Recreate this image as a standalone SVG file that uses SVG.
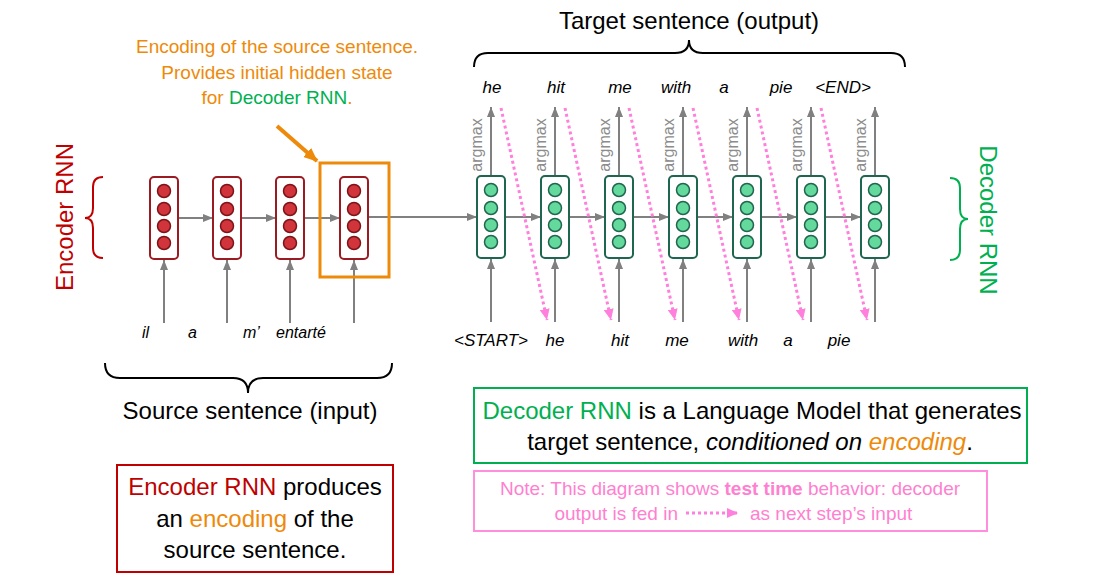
<svg xmlns="http://www.w3.org/2000/svg" width="1095" height="583" viewBox="0 0 1095 583">
<defs>
<style>
text{font-family:"Liberation Sans",Arial,sans-serif;}
.enc{fill:#fff;stroke:#9b1b22;stroke-width:2;}
.encc{fill:#d1343a;stroke:#7d1318;stroke-width:1.5;}
.dec{fill:#fff;stroke:#1f6650;stroke-width:2;}
.decc{fill:#63d99c;stroke:#1f6650;stroke-width:1.5;}
.g{stroke:#808080;stroke-width:2;fill:none;marker-end:url(#ga);}
.pk{stroke:#ff7fdc;stroke-width:3;stroke-dasharray:3 3;fill:none;marker-end:url(#pa);}
.w{font-size:17px;font-style:italic;fill:#000;text-anchor:middle;}
.we{font-size:16px;font-style:italic;fill:#000;}
.am{font-size:16px;fill:#8c8c8c;text-anchor:middle;}
.br{fill:none;stroke-width:2;}
.big{font-size:24px;text-anchor:middle;fill:#000;}
</style>
<marker id="ga" markerUnits="userSpaceOnUse" markerWidth="10" markerHeight="8" refX="10" refY="4" orient="auto"><path d="M0,0 L10,4 L0,8 z" fill="#808080"/></marker>
<marker id="pa" markerUnits="userSpaceOnUse" markerWidth="12" markerHeight="10" refX="11" refY="5" orient="auto"><path d="M0,0 L11,5 L0,10 z" fill="#ff7fdc"/></marker>
<marker id="oa" markerUnits="userSpaceOnUse" markerWidth="14" markerHeight="12" refX="13" refY="6" orient="auto"><path d="M0,0 L14,6 L0,12 z" fill="#ee8a0a"/></marker>
<g id="cellE"><rect x="0" y="0" width="28" height="82" rx="4" class="enc"/><circle cx="14" cy="14" r="6.5" class="encc"/><circle cx="14" cy="32" r="6.5" class="encc"/><circle cx="14" cy="49" r="6.5" class="encc"/><circle cx="14" cy="66" r="6.5" class="encc"/></g>
<g id="cellD"><rect x="0" y="0" width="28" height="82" rx="4" class="dec"/><circle cx="14" cy="14" r="6.5" class="decc"/><circle cx="14" cy="32" r="6.5" class="decc"/><circle cx="14" cy="49" r="6.5" class="decc"/><circle cx="14" cy="66" r="6.5" class="decc"/></g>
</defs>
<rect width="1095" height="583" fill="#fff"/>

<g id="connectors">
<!-- encoder inputs -->
<line x1="164" y1="323" x2="164" y2="260" class="g"/>
<line x1="227" y1="323" x2="227" y2="260" class="g"/>
<line x1="290" y1="323" x2="290" y2="260" class="g"/>
<line x1="354" y1="323" x2="354" y2="260" class="g"/>
<!-- encoder recurrent -->
<line x1="178" y1="218" x2="213" y2="218" class="g"/>
<line x1="241" y1="218" x2="276" y2="218" class="g"/>
<line x1="304" y1="218" x2="340" y2="218" class="g"/>
<line x1="368" y1="217" x2="477" y2="217" class="g"/>
<!-- decoder recurrent -->
<line x1="505" y1="217" x2="541" y2="217" class="g"/>
<line x1="569" y1="217" x2="605" y2="217" class="g"/>
<line x1="633" y1="217" x2="669" y2="217" class="g"/>
<line x1="697" y1="217" x2="733" y2="217" class="g"/>
<line x1="761" y1="217" x2="797" y2="217" class="g"/>
<line x1="825" y1="217" x2="861" y2="217" class="g"/>
<!-- decoder inputs -->
<line x1="491" y1="322" x2="491" y2="259" class="g"/>
<line x1="555" y1="322" x2="555" y2="259" class="g"/>
<line x1="619" y1="322" x2="619" y2="259" class="g"/>
<line x1="683" y1="322" x2="683" y2="259" class="g"/>
<line x1="747" y1="322" x2="747" y2="259" class="g"/>
<line x1="811" y1="322" x2="811" y2="259" class="g"/>
<line x1="875" y1="322" x2="875" y2="259" class="g"/>
<!-- decoder outputs -->
<line x1="491" y1="175" x2="491" y2="107" class="g"/>
<line x1="555" y1="175" x2="555" y2="107" class="g"/>
<line x1="619" y1="175" x2="619" y2="107" class="g"/>
<line x1="683" y1="175" x2="683" y2="107" class="g"/>
<line x1="747" y1="175" x2="747" y2="107" class="g"/>
<line x1="811" y1="175" x2="811" y2="107" class="g"/>
<line x1="875" y1="175" x2="875" y2="107" class="g"/>
<!-- feed-in dotted -->
<line x1="501" y1="108" x2="547" y2="320" class="pk"/>
<line x1="565" y1="108" x2="611" y2="320" class="pk"/>
<line x1="629" y1="108" x2="675" y2="320" class="pk"/>
<line x1="693" y1="108" x2="739" y2="320" class="pk"/>
<line x1="757" y1="108" x2="803" y2="320" class="pk"/>
<line x1="821" y1="108" x2="867" y2="320" class="pk"/>
<!-- orange pointer -->
<line x1="277" y1="126" x2="317" y2="161" stroke="#ee8a0a" stroke-width="4" marker-end="url(#oa)"/>
</g>

<g id="encoder">
<use href="#cellE" x="150" y="177"/>
<use href="#cellE" x="213" y="177"/>
<use href="#cellE" x="276" y="177"/>
<use href="#cellE" x="340" y="177"/>
</g>
<g id="encoding-box"><rect x="320" y="163" width="69" height="114" fill="none" stroke="#ee8a0a" stroke-width="3"/></g>
<g id="decoder">
<use href="#cellD" x="477" y="176"/>
<use href="#cellD" x="541" y="176"/>
<use href="#cellD" x="605" y="176"/>
<use href="#cellD" x="669" y="176"/>
<use href="#cellD" x="733" y="176"/>
<use href="#cellD" x="797" y="176"/>
<use href="#cellD" x="861" y="176"/>
</g>

<g id="argmax-labels">
<text class="am" transform="translate(482,145) rotate(-90)">argmax</text>
<text class="am" transform="translate(546,145) rotate(-90)">argmax</text>
<text class="am" transform="translate(610,145) rotate(-90)">argmax</text>
<text class="am" transform="translate(674,145) rotate(-90)">argmax</text>
<text class="am" transform="translate(738,145) rotate(-90)">argmax</text>
<text class="am" transform="translate(802,145) rotate(-90)">argmax</text>
<text class="am" transform="translate(866,145) rotate(-90)">argmax</text>
</g>

<g id="source-words">
<text class="we" x="142" y="338">il</text>
<text class="we" x="188" y="338">a</text>
<text class="we" x="243" y="338">m’</text>
<text class="we" x="276" y="338">entarté</text>
</g>
<g id="target-words">
<text class="w" x="492" y="93">he</text>
<text class="w" x="556" y="93">hit</text>
<text class="w" x="620" y="93">me</text>
<text class="w" x="676" y="93">with</text>
<text class="w" x="724" y="93">a</text>
<text class="w" x="781" y="93">pie</text>
<text class="w" x="843" y="93">&lt;END&gt;</text>
</g>
<g id="input-words">
<text class="w" x="491" y="346">&lt;START&gt;</text>
<text class="w" x="555" y="346">he</text>
<text class="w" x="620" y="346">hit</text>
<text class="w" x="677" y="346">me</text>
<text class="w" x="743" y="346">with</text>
<text class="w" x="788" y="346">a</text>
<text class="w" x="839" y="346">pie</text>
</g>

<g id="encoder-brace">
<path class="br" stroke="#c00000" d="M103,177 Q93,177 93,187 L93,208 Q93,218 85,218 Q93,218 93,228 L93,248 Q93,258 103,258"/>
<text transform="translate(73,217) rotate(-90)" font-size="24" fill="#c00000" text-anchor="middle">Encoder RNN</text>
</g>
<g id="decoder-brace">
<path class="br" stroke="#00b050" d="M950,178 Q960,178 960,188 L960,209 Q960,219 968,219 Q960,219 960,229 L960,250 Q960,260 950,260"/>
<text transform="translate(980,220) rotate(90)" font-size="24" fill="#00b050" text-anchor="middle">Decoder RNN</text>
</g>
<g id="target-brace">
<path class="br" stroke="#000" d="M474,67 Q474,53 488,53 L675,53 Q689,53 689,40 Q689,53 703,53 L891,53 Q905,53 905,67"/>
<text class="big" x="689" y="29">Target sentence (output)</text>
</g>
<g id="source-brace">
<path class="br" stroke="#000" d="M105,363 Q105,378 120,378 L233,378 Q248,378 248,393 Q248,378 263,378 L377,378 Q392,378 392,363"/>
<text class="big" x="250" y="419">Source sentence (input)</text>
</g>

<g id="encoding-note" font-size="19" text-anchor="middle" fill="#ee8a0a">
<text x="277" y="53">Encoding of the source sentence.</text>
<text x="277" y="79">Provides initial hidden state</text>
<text x="277" y="104">for <tspan fill="#00b050">Decoder RNN</tspan>.</text>
</g>

<g id="decoder-box">
<rect x="474" y="388" width="553" height="75" fill="none" stroke="#00b050" stroke-width="2"/>
<text class="big" x="752" y="419"><tspan fill="#00b050">Decoder RNN</tspan> is a Language Model that generates</text>
<text class="big" x="750" y="450">target sentence, <tspan font-style="italic">conditioned on <tspan fill="#ee8a0a">encoding</tspan></tspan>.</text>
</g>

<g id="note-box">
<rect x="474" y="471" width="513" height="60" fill="none" stroke="#ff8fdc" stroke-width="2"/>
<text x="730" y="495" font-size="19" fill="#ff7fd0" text-anchor="middle">Note: This diagram shows <tspan font-weight="bold">test time</tspan> behavior: decoder</text>
<text x="678" y="520" font-size="19" fill="#ff7fd0" text-anchor="end">output is fed in</text>
<line x1="686" y1="513" x2="738" y2="513" class="pk" stroke-width="2.5" stroke-dasharray="2.5 2.5"/>
<text x="750" y="520" font-size="19" fill="#ff7fd0">as next step’s input</text>
</g>

<g id="encoder-box">
<rect x="117" y="465" width="276" height="107" fill="none" stroke="#c00000" stroke-width="2"/>
<text class="big" x="255" y="495" font-size="23.5"><tspan fill="#c00000">Encoder RNN</tspan> produces</text>
<text class="big" x="255" y="527" font-size="23.5">an <tspan fill="#ee8a0a">encoding</tspan> of the</text>
<text class="big" x="255" y="558" font-size="23.5">source sentence.</text>
</g>
</svg>
